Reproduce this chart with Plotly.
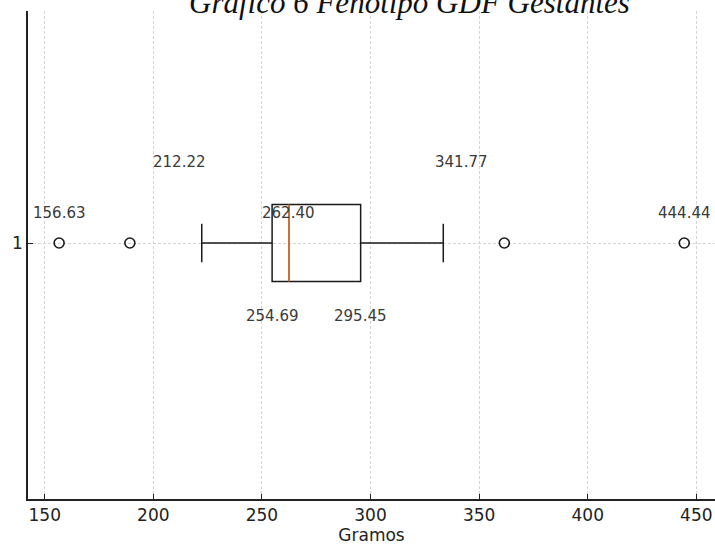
import plotly.graph_objects as go

# Summary statistics of birth weight (grams)
category = [1]
q1 = [254.69]
median = [262.40]
q3 = [295.45]
lower_whisker = [222.3]
upper_whisker = [333.5]
outliers = [156.63, 189.2, 361.6, 444.44]

# Value labels written on the chart: (value, vertical position)
label_values = [156.63, 212.22, 262.40, 254.69, 295.45, 341.77, 444.44]
label_levels = [1.059, 1.158, 1.059, 0.857, 0.857, 1.158, 1.059]

x_ticks = [150, 200, 250, 300, 350, 400, 450]
box_width = 0.15

fig = go.Figure()

fig.add_trace(go.Box(
    y=category, q1=q1, median=median, q3=q3,
    lowerfence=lower_whisker, upperfence=upper_whisker,
    orientation="h", width=box_width, whiskerwidth=0.5,
    fillcolor="rgba(0,0,0,0)", line=dict(color="#1a1a1a", width=1.5),
    boxpoints=False, showlegend=False, hoverinfo="skip",
))

# Median drawn in orange over the box outline
fig.add_trace(go.Scatter(
    x=[median[0], median[0]],
    y=[category[0] - box_width / 2, category[0] + box_width / 2],
    mode="lines", line=dict(color="#e07b39", width=1.5),
    showlegend=False, hoverinfo="skip",
))

# Outliers as open circles
fig.add_trace(go.Scatter(
    x=outliers, y=category * len(outliers), mode="markers",
    marker=dict(symbol="circle-open", size=10, color="#1a1a1a",
                line=dict(width=1.6, color="#1a1a1a")),
    showlegend=False, hoverinfo="skip",
))

for v, lvl in zip(label_values, label_levels):
    fig.add_annotation(
        x=v, y=lvl, xref="x", yref="y", text=f"{v:.2f}", showarrow=False,
        xanchor="center", yanchor="middle",
        font=dict(family="DejaVu Sans", size=15, color="#3a3a3a"),
    )

# Caption above the chart
fig.add_annotation(
    x=0.556, y=1, xref="paper", yref="paper", yanchor="bottom", yshift=-11,
    text="<i>Gráfico 6 Fenotipo GDF Gestantes</i>", showarrow=False,
    font=dict(family="Liberation Serif", size=31, color="#111111"),
)

axis_font = dict(family="DejaVu Sans", size=17, color="#222222")
grid_style = dict(showgrid=True, gridcolor="#d4d4d4", gridwidth=1,
                  griddash="3px,2px", zeroline=False)

fig.update_xaxes(
    range=[142.3, 458.6], tickvals=x_ticks, ticks="inside", ticklen=5,
    tickwidth=1, tickcolor="#222222", tickfont=axis_font,
    showline=True, linecolor="#222222", linewidth=1.5, mirror=False,
    title=dict(text="Gramos", font=axis_font, standoff=4),
    **grid_style,
)
fig.update_yaxes(
    range=[0.5, 1.453125], tickvals=category, ticktext=["1"], ticks="inside",
    ticklen=5, tickwidth=1, tickcolor="#222222", tickfont=axis_font,
    showline=True, linecolor="#222222", linewidth=1.5, mirror=False,
    **grid_style,
)

fig.update_layout(
    width=715, height=547,
    margin=dict(l=28, r=0, t=11, b=48),
    paper_bgcolor="white", plot_bgcolor="white",
)

fig.write_html("out.html")
